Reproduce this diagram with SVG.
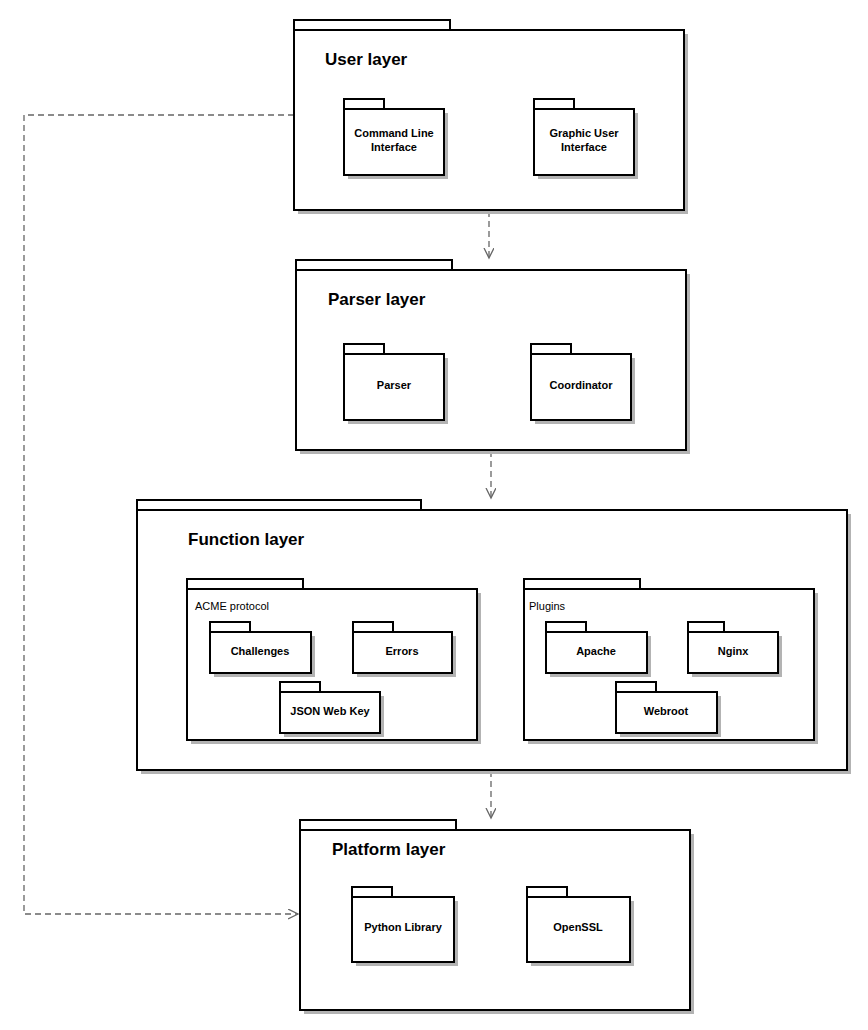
<svg xmlns="http://www.w3.org/2000/svg" width="868" height="1030" viewBox="0 0 868 1030">
<style>
.s{fill:#b3b3b3;stroke:none}
.b{fill:#fff;stroke:#000;stroke-width:2}
.t{font-family:"Liberation Sans",Arial,sans-serif;font-weight:bold;font-size:17px}
.n{font-family:"Liberation Sans",Arial,sans-serif;font-weight:bold;font-size:11px;text-anchor:middle}
.l{font-family:"Liberation Sans",Arial,sans-serif;font-size:11px}
.c{fill:none;stroke:#666;stroke-width:1.3;stroke-dasharray:6 4}
</style>
<defs>
<marker id="a" markerWidth="12" markerHeight="12" refX="10" refY="5" orient="auto" markerUnits="userSpaceOnUse"><path d="M0,0 L10,5 L0,10" fill="none" stroke="#666" stroke-width="1.3"/></marker>
</defs>
<rect width="868" height="1030" fill="#fff"/>
<g id="connectors">
<path class="c" d="M489,211 V258" marker-end="url(#a)"/>
<path class="c" d="M491,451 V498" marker-end="url(#a)"/>
<path class="c" d="M491,771 V818" marker-end="url(#a)"/>
<path class="c" d="M294,115 H24 V914 H298" marker-end="url(#a)"/>
</g>
<g id="user-layer">
<rect class="s" x="298" y="34" width="390" height="180"/>
<rect class="b" x="294" y="20" width="156" height="10"/><rect class="b" x="294" y="30" width="390" height="180"/>
<text class="t" x="325" y="65">User layer</text>
<g id="cli"><rect class="s" x="348" y="113" width="100" height="66"/><rect class="b" x="344" y="99" width="40" height="10"/><rect class="b" x="344" y="109" width="100" height="66"/><text class="n" x="394" y="137">Command Line</text><text class="n" x="394" y="151">Interface</text></g>
<g id="gui"><rect class="s" x="538" y="113" width="100" height="66"/><rect class="b" x="534" y="99" width="40" height="10"/><rect class="b" x="534" y="109" width="100" height="66"/><text class="n" x="584" y="137">Graphic User</text><text class="n" x="584" y="151">Interface</text></g>
</g>
<g id="parser-layer">
<rect class="s" x="300" y="274" width="390" height="180"/>
<rect class="b" x="296" y="260" width="156" height="10"/><rect class="b" x="296" y="270" width="390" height="180"/>
<text class="t" x="328" y="305">Parser layer</text>
<g id="parser"><rect class="s" x="348" y="358" width="100" height="66"/><rect class="b" x="344" y="344" width="40" height="10"/><rect class="b" x="344" y="354" width="100" height="66"/><text class="n" x="394" y="389">Parser</text></g>
<g id="coordinator"><rect class="s" x="535" y="358" width="100" height="66"/><rect class="b" x="531" y="344" width="40" height="10"/><rect class="b" x="531" y="354" width="100" height="66"/><text class="n" x="581" y="389">Coordinator</text></g>
</g>
<g id="function-layer">
<rect class="s" x="141" y="514" width="710" height="260"/>
<rect class="b" x="137" y="500" width="284" height="10"/><rect class="b" x="137" y="510" width="710" height="260"/>
<text class="t" x="188" y="545">Function layer</text>
<g id="acme"><rect class="s" x="191" y="593" width="290" height="151"/><rect class="b" x="187" y="579" width="116" height="10"/><rect class="b" x="187" y="589" width="290" height="151"/><text class="l" x="195" y="610">ACME protocol</text>
<g id="challenges"><rect class="s" x="214" y="636" width="101" height="41"/><rect class="b" x="210" y="622" width="40" height="10"/><rect class="b" x="210" y="632" width="101" height="41"/><text class="n" x="260" y="655">Challenges</text></g>
<g id="errors"><rect class="s" x="357" y="636" width="99" height="41"/><rect class="b" x="353" y="622" width="40" height="10"/><rect class="b" x="353" y="632" width="99" height="41"/><text class="n" x="402" y="655">Errors</text></g>
<g id="jwk"><rect class="s" x="284" y="696" width="100" height="41"/><rect class="b" x="280" y="682" width="40" height="10"/><rect class="b" x="280" y="692" width="100" height="41"/><text class="n" x="330" y="715">JSON Web Key</text></g>
</g>
<g id="plugins"><rect class="s" x="528" y="593" width="290" height="151"/><rect class="b" x="524" y="579" width="116" height="10"/><rect class="b" x="524" y="589" width="290" height="151"/><text class="l" x="529" y="610">Plugins</text>
<g id="apache"><rect class="s" x="550" y="636" width="101" height="41"/><rect class="b" x="546" y="622" width="40" height="10"/><rect class="b" x="546" y="632" width="101" height="41"/><text class="n" x="596" y="655">Apache</text></g>
<g id="nginx"><rect class="s" x="692" y="636" width="90" height="41"/><rect class="b" x="688" y="622" width="36" height="10"/><rect class="b" x="688" y="632" width="90" height="41"/><text class="n" x="733" y="655">Nginx</text></g>
<g id="webroot"><rect class="s" x="620" y="696" width="101" height="41"/><rect class="b" x="616" y="682" width="40" height="10"/><rect class="b" x="616" y="692" width="101" height="41"/><text class="n" x="666" y="715">Webroot</text></g>
</g>
</g>
<g id="platform-layer">
<rect class="s" x="304" y="834" width="390" height="180"/>
<rect class="b" x="300" y="820" width="156" height="10"/><rect class="b" x="300" y="830" width="390" height="180"/>
<text class="t" x="332" y="855">Platform layer</text>
<g id="python"><rect class="s" x="356" y="901" width="102" height="65"/><rect class="b" x="352" y="887" width="40" height="10"/><rect class="b" x="352" y="897" width="102" height="65"/><text class="n" x="403" y="931">Python Library</text></g>
<g id="openssl"><rect class="s" x="531" y="901" width="103" height="65"/><rect class="b" x="527" y="887" width="40" height="10"/><rect class="b" x="527" y="897" width="103" height="65"/><text class="n" x="578" y="931">OpenSSL</text></g>
</g>
</svg>
